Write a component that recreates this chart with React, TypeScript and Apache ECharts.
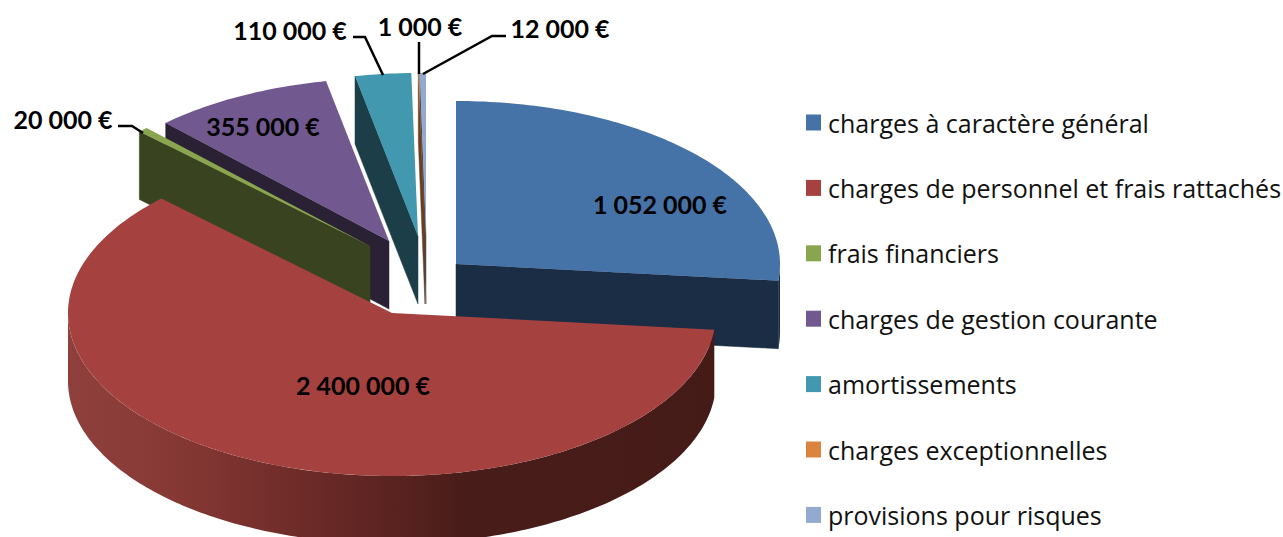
import React, { useEffect, useRef } from "react";
import * as echarts from "echarts";

const categories = [
  "charges à caractère général",
  "charges de personnel et frais rattachés",
  "frais financiers",
  "charges de gestion courante",
  "amortissements",
  "charges exceptionnelles",
  "provisions pour risques",
];
const amounts = [1052000, 2400000, 20000, 355000, 110000, 1000, 12000];
const valueLabels = ["1 052 000 €", "2 400 000 €", "20 000 €", "355 000 €", "110 000 €", "1 000 €", "12 000 €"];

// Style & layout (separate from the data)
const topColors = ["#4572A7", "#A5423F", "#89A54E", "#71588F", "#4198AF", "#DB843D", "#93A9CF"];
const wallColors = ["#1A2D45", "#451B18", "#3A431F", "#2B2135", "#1B3E48", "#6B3F1C", "#3B4A66"];
const centre = [414, 285];
const explodeOffsets = [[42, -21], [-22, 28], [-44, -39], [-25, -44], [4, -49], [11, -49], [12, -49]];
const rx = 324;
const ry = 163;
const depth = 68;
const labelAnchors = [[660, 204], [363, 385], [63, 119], [263, 126], [290, 30], [420, 26], [560, 28]];
const leaders: number[][][] = [
  [],
  [],
  [[118, 126], [132, 126], [143, 133]],
  [],
  [[353, 37], [365, 37], [383, 75]],
  [[419, 42], [419, 74]],
  [[506, 36], [492, 36], [423, 74]],
];
const drawOrder = [0, 6, 5, 4, 3, 2, 1];
const labelFont = 'bold 25px Lato, "Noto Sans", sans-serif';

const total = amounts.reduce((a, b) => a + b, 0);
const startAngles: number[] = [];
amounts.reduce((acc, v, i) => {
  startAngles[i] = (acc / total) * 360;
  return acc + v;
}, 0);

const rad = (d: number) => (d * Math.PI) / 180;

function renderSlice(index: number) {
  return (_params: any, api: any) => {
    const value = api.value(0);
    const a0 = startAngles[index];
    const a1 = a0 + (value / total) * 360;
    const ax = centre[0] + explodeOffsets[index][0];
    const ay = centre[1] + explodeOffsets[index][1];
    const at = (a: number, dy = 0) => [ax + rx * Math.sin(rad(a)), ay - ry * Math.cos(rad(a)) + dy];
    const arc = (from: number, to: number, dy = 0) => {
      const n = Math.max(1, Math.ceil(Math.abs(to - from)));
      const pts: number[][] = [];
      for (let i = 0; i <= n; i++) pts.push(at(from + ((to - from) * i) / n, dy));
      return pts;
    };
    const children: any[] = [];
    const wall = wallColors[index];
    const radial = (a: number) => {
      children.push({
        type: "polygon",
        shape: { points: [[ax, ay], at(a), at(a, depth), [ax, ay + depth]] },
        style: { fill: wall, stroke: wall, lineWidth: 0.5 },
      });
    };
    if (Math.sin(rad(a0)) < 0) radial(a0);
    if (Math.sin(rad(a1)) > 0) radial(a1);
    const lo = Math.max(a0, 90);
    const hi = Math.min(a1, 270);
    if (hi > lo) {
      const fill =
        index === 1
          ? new echarts.graphic.LinearGradient(0, 0, 1, 0, [
              { offset: 0, color: "#8F403C" },
              { offset: 0.1, color: "#8A3C38" },
              { offset: 0.2, color: "#823632" },
              { offset: 0.35, color: "#6F2C29" },
              { offset: 0.5, color: "#5A2320" },
              { offset: 0.62, color: "#481C19" },
              { offset: 1, color: "#451B18" },
            ])
          : wall;
      children.push({
        type: "polygon",
        shape: { points: [...arc(lo, hi), ...arc(hi, lo, depth)] },
        style: { fill },
      });
    }
    children.push({
      type: "polygon",
      shape: { points: [[ax, ay], ...arc(a0, a1)] },
      style: { fill: topColors[index] },
    });
    if (leaders[index].length) {
      children.push({
        type: "polyline",
        shape: { points: leaders[index] },
        style: { fill: "none", stroke: "#000", lineWidth: 2.5 },
      });
    }
    children.push({
      type: "text",
      style: {
        text: valueLabels[index],
        x: labelAnchors[index][0],
        y: labelAnchors[index][1],
        fill: "#000",
        font: labelFont,
        textAlign: "center",
        textVerticalAlign: "middle",
      },
    });
    return { type: "group", children };
  };
}

export default function App() {
  const ref = useRef<HTMLDivElement>(null);
  useEffect(() => {
    const chart = echarts.init(ref.current!, undefined, { renderer: "svg" });
    chart.setOption({
      animation: false,
      backgroundColor: "#fff",
      legend: {
        orient: "vertical",
        left: 806,
        top: 110,
        padding: 0,
        itemWidth: 15,
        itemHeight: 16,
        itemGap: 40.4,
        icon: "rect",
        selectedMode: false,
        data: categories,
        textStyle: {
          fontFamily: '"Open Sans", Lato, sans-serif',
          fontSize: 25,
          lineHeight: 20,
          color: "#111",
          padding: [0, 0, 0, 2],
        },
      },
      series: drawOrder.map((i) => ({
        type: "custom",
        name: categories[i],
        coordinateSystem: "none",
        silent: true,
        clip: false,
        itemStyle: { color: topColors[i] },
        renderItem: renderSlice(i),
        data: [[amounts[i]]],
      })),
    });
    return () => chart.dispose();
  }, []);
  return <div ref={ref} style={{ position: "fixed", left: 0, top: 0, width: 1283, height: 537 }} />;
}
